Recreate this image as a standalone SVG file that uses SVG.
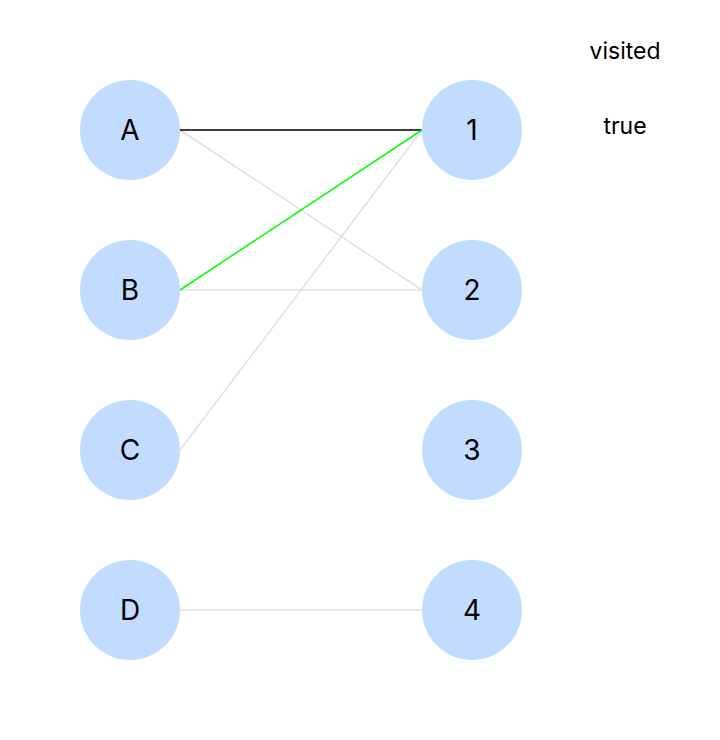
<svg xmlns="http://www.w3.org/2000/svg" width="720" height="740" viewBox="0 0 720 740">
<style>
.n{fill:#c2dcff}
.t{font-family:Inter,"Liberation Sans",sans-serif;font-size:28px;fill:#000;text-anchor:middle;dominant-baseline:central}
.s{font-family:Inter,"Liberation Sans",sans-serif;font-size:23px;fill:#000;text-anchor:middle;dominant-baseline:central}
.e{stroke:#e0e0e0;stroke-width:1.5;fill:none}
</style>
<rect width="720" height="740" fill="#fff"/>
<g id="connectors">
<line class="e" x1="180" y1="130" x2="422" y2="290"/>
<line class="e" x1="180" y1="290" x2="422" y2="290"/>
<line class="e" x1="180" y1="450" x2="422" y2="130"/>
<line class="e" x1="180" y1="610" x2="422" y2="610"/>
<line x1="180" y1="130" x2="422" y2="130" stroke="#000" stroke-width="1.5"/>
<line x1="180" y1="290" x2="422" y2="130" stroke="#00ff00" stroke-width="1.5"/>
</g>
<g id="A"><circle class="n" cx="130" cy="130" r="50"/><text class="t" x="130" y="130">A</text></g>
<g id="B"><circle class="n" cx="130" cy="290" r="50"/><text class="t" x="130" y="290">B</text></g>
<g id="C"><circle class="n" cx="130" cy="450" r="50"/><text class="t" x="130" y="450">C</text></g>
<g id="D"><circle class="n" cx="130" cy="610" r="50"/><text class="t" x="130" y="610">D</text></g>
<g id="n1"><circle class="n" cx="472" cy="130" r="50"/><text class="t" x="472" y="130">1</text></g>
<g id="n2"><circle class="n" cx="472" cy="290" r="50"/><text class="t" x="472" y="290">2</text></g>
<g id="n3"><circle class="n" cx="472" cy="450" r="50"/><text class="t" x="472" y="450">3</text></g>
<g id="n4"><circle class="n" cx="472" cy="610" r="50"/><text class="t" x="472" y="610">4</text></g>
<text class="s" x="625" y="51">visited</text>
<text class="s" x="625" y="126">true</text>
</svg>
